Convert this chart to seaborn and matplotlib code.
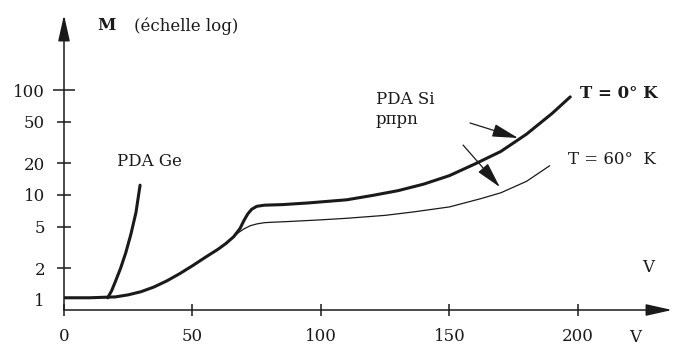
import matplotlib
matplotlib.use("Agg")
import matplotlib.pyplot as plt
import seaborn as sns
import pandas as pd

# --- data (V in volts, M gain, log scale) ---
si_common_v = [0, 10, 20, 25, 30, 35, 40, 45, 50, 55, 60, 63, 66]
si_common_m = [1.05, 1.05, 1.07, 1.12, 1.2, 1.33, 1.52, 1.78, 2.12, 2.55, 3.05, 3.45, 4.0]

si_0k_v = [68.5, 70, 71.5, 73, 75, 78, 85, 95, 110, 120, 130, 140, 150, 160, 170, 180, 190, 197]
si_0k_m = [4.8, 5.7, 6.6, 7.3, 7.8, 8.0, 8.1, 8.4, 9.0, 9.9, 11.0, 12.7, 15.3, 19.8, 26.0, 38.0, 60.0, 86.0]

si_60k_v = [68, 70, 72.5, 75, 78, 81, 88, 100, 110, 125, 136, 150, 162, 170, 180, 189]
si_60k_m = [4.4, 4.75, 5.1, 5.3, 5.45, 5.5, 5.6, 5.8, 6.0, 6.4, 6.9, 7.7, 9.2, 10.5, 13.5, 19.0]

ge_v = [17, 18.5, 20, 22, 24, 26, 28, 29.6]
ge_m = [1.05, 1.22, 1.5, 2.0, 2.8, 4.2, 6.8, 12.4]

x_ticks = [0, 50, 100, 150, 200]
y_major = [100]
y_minor = [1, 2, 5, 10, 20, 50]

W, H = 673, 347

def fx(px):
    return px / W

def fy(py):
    return 1 - py / H

sns.set_theme(style="white")
plt.rcParams["font.family"] = ["DejaVu Serif", "DejaVu Sans"]

fig = plt.figure(figsize=(W / 100, H / 100), dpi=100)
ax = fig.add_axes([fx(64), fy(310), fx(672) - fx(64), fy(15) - fy(310)])
ax.set_facecolor("white")

curves = [
    (si_common_v + si_0k_v, si_common_m + si_0k_m, 2.2),
    (si_common_v[-2:] + si_60k_v, si_common_m[-2:] + si_60k_m, 0.9),
    (ge_v, ge_m, 2.2),
]
for v, m, lw in curves:
    df = pd.DataFrame({"V": v, "M": m})
    sns.lineplot(data=df, x="V", y="M", sort=False, estimator=None,
                 color="#1a1a1a", linewidth=lw, ax=ax,
                 solid_joinstyle="round", solid_capstyle="round")

ax.set_yscale("log")
ax.set_xlim(0, 236.6)
ax.set_ylim(0.803, 518)
for s in ax.spines.values():
    s.set_visible(False)
ax.set_xlabel("")
ax.set_ylabel("")

ax.set_xticks(x_ticks)
ax.set_xticklabels([str(t) for t in x_ticks])
ax.set_yticks(y_major)
ax.set_yticklabels([str(t) for t in y_major])
ax.set_yticks(y_minor, minor=True)
ax.set_yticklabels([str(t) for t in y_minor], minor=True)

ax.tick_params(axis="x", direction="inout", length=8.6, width=1.1, pad=8.7,
               labelsize=12, colors="#1a1a1a", bottom=True)
ax.tick_params(axis="y", which="major", direction="inout", length=16.5, width=1.1,
               pad=5.4, labelsize=12, colors="#1a1a1a", left=True)
ax.tick_params(axis="y", which="minor", direction="inout", length=9.4, width=1.1,
               pad=9.0, labelsize=12, colors="#1a1a1a", left=True)
fig.canvas.draw()
ax.yaxis.get_minor_ticks()[0].tick1line.set_visible(False)

# axes with arrow heads
ax.annotate("", xy=(1, 0), xytext=(0, 0), xycoords="axes fraction",
            arrowprops=dict(arrowstyle="-|>,head_length=0.8,head_width=0.18",
                            mutation_scale=20, lw=1.1, color="#1a1a1a",
                            shrinkA=0, shrinkB=0))
ax.annotate("", xy=(0, 1), xytext=(0, 0), xycoords="axes fraction",
            arrowprops=dict(arrowstyle="-|>,head_length=0.8,head_width=0.18",
                            mutation_scale=20, lw=1.1, color="#1a1a1a",
                            shrinkA=0, shrinkB=0))

# pointer arrows for PDA Si
arrow_kw = dict(arrowstyle="-|>,head_length=0.8,head_width=0.2",
                mutation_scale=20, lw=0.9, color="#1a1a1a", shrinkA=0, shrinkB=0)
ax.annotate("", xy=(176.7, 34.9), xytext=(158, 48.5), arrowprops=arrow_kw)
ax.annotate("", xy=(169.6, 11.9), xytext=(155.3, 29.9), arrowprops=arrow_kw)

c = "#1a1a1a"
fig.text(fx(97), fy(26), "M", fontsize=12, fontweight="bold", color=c, va="center")
fig.text(fx(134), fy(26), "(échelle log)", fontsize=12, color=c, va="center")
fig.text(fx(117), fy(162), "PDA Ge", fontsize=12, color=c, va="center")
fig.text(fx(376), fy(100), "PDA Si", fontsize=12, color=c, va="center")
fig.text(fx(376), fy(119), "pπpn", fontsize=12, color=c, va="center")
fig.text(fx(580), fy(93), "T = 0° K", fontsize=12, fontweight="bold", color=c, va="center")
fig.text(fx(568), fy(160), "T = 60°  K", fontsize=12, color=c, va="center")
fig.text(fx(648), fy(267), "V", fontsize=12, color=c, va="center", ha="center")
fig.text(fx(635), fy(338), "V", fontsize=12, color=c, va="center", ha="center")

fig.savefig("out.png", dpi=100, facecolor="white")
